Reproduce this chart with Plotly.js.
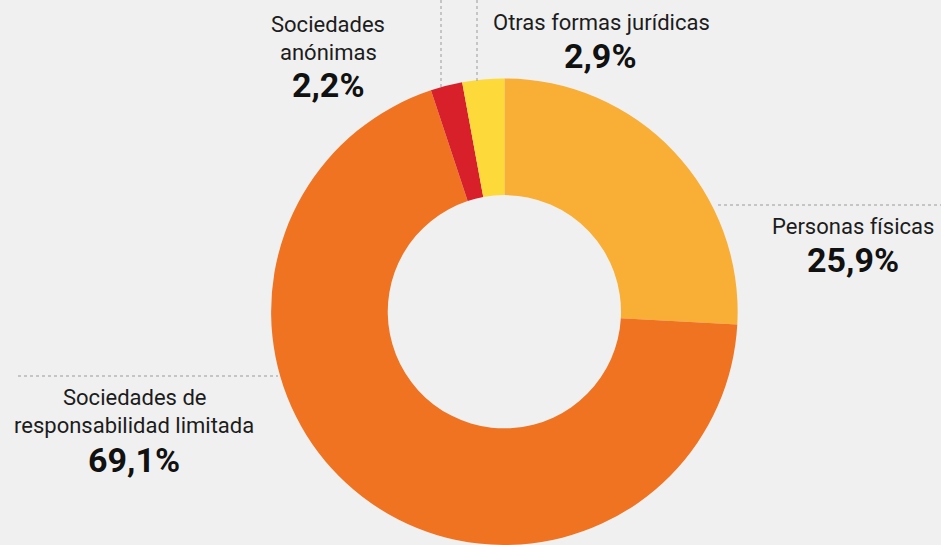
<!DOCTYPE html>
<html>
<head>
<meta charset="utf-8">
<script src="https://cdn.plot.ly/plotly-3.0.1.min.js"></script>
<style>
  html, body { margin: 0; padding: 0; background: #f0f0f0; }
  #chart { width: 941px; height: 545px; }
</style>
</head>
<body>
<div id="chart"></div>
<script>
// datos
const categorias = ["Personas físicas", "Sociedades de responsabilidad limitada", "Sociedades anónimas", "Otras formas jurídicas"];
const valores = [25.9, 69.1, 2.2, 2.9];
const etiquetasValor = ["25,9%", "69,1%", "2,2%", "2,9%"];
const colores = ["#f9ae36", "#f07322", "#d7202a", "#fdd93a"];

// texto de las etiquetas (líneas) y su posición en píxeles
const lineasEtiqueta = [["Personas físicas"], ["Sociedades de", "responsabilidad limitada"], ["Sociedades", "anónimas"], ["Otras formas jurídicas"]];
const posEtiqueta = [[853, 226], [134, 397], [328, 24], [601, 22]];
const posValor = [[853, 260], [134, 460], [328, 85], [600, 56]];

const W = 941, H = 545;
const px = (x) => x / W;
const py = (y) => 1 - y / H;

const annotations = [];
lineasEtiqueta.forEach((lineas, i) => {
  lineas.forEach((t, j) => {
    annotations.push({
      text: t, x: px(posEtiqueta[i][0]), y: py(posEtiqueta[i][1] + j * 28),
      xref: "paper", yref: "paper", xanchor: "center", yanchor: "middle",
      showarrow: false, font: { family: "Roboto", size: 22, color: "#1c1c1c" }
    });
  });
  annotations.push({
    text: "<b>" + etiquetasValor[i] + "</b>", x: px(posValor[i][0]), y: py(posValor[i][1]),
    xref: "paper", yref: "paper", xanchor: "center", yanchor: "middle",
    showarrow: false, font: { family: "Roboto", size: 34, color: "#111" }
  });
});

// líneas guía punteadas
const guias = [[718, 205, 941, 205], [18, 376, 278, 376], [441, 0, 441, 90], [477, 0, 477, 82]];
const shapes = guias.map(g => ({
  type: "line", xref: "paper", yref: "paper",
  x0: px(g[0]), y0: py(g[1]), x1: px(g[2]), y1: py(g[3]),
  line: { color: "#9a9a9a", width: 1, dash: "dot" }
}));

const trace = {
  type: "pie",
  labels: categorias,
  values: valores,
  hole: 0.5,
  sort: false,
  direction: "clockwise",
  rotation: 0,
  textinfo: "none",
  hoverinfo: "label+percent",
  marker: { colors: colores, line: { width: 0 } },
  domain: { x: [0.287, 0.785], y: [0, 0.856] },
  showlegend: false
};

const layout = {
  width: W, height: H,
  margin: { l: 0, r: 0, t: 0, b: 0 },
  paper_bgcolor: "#f0f0f0",
  plot_bgcolor: "#f0f0f0",
  showlegend: false,
  annotations: annotations,
  shapes: shapes
};

Plotly.newPlot("chart", [trace], layout, { displayModeBar: false, staticPlot: true });
</script>
</body>
</html>
